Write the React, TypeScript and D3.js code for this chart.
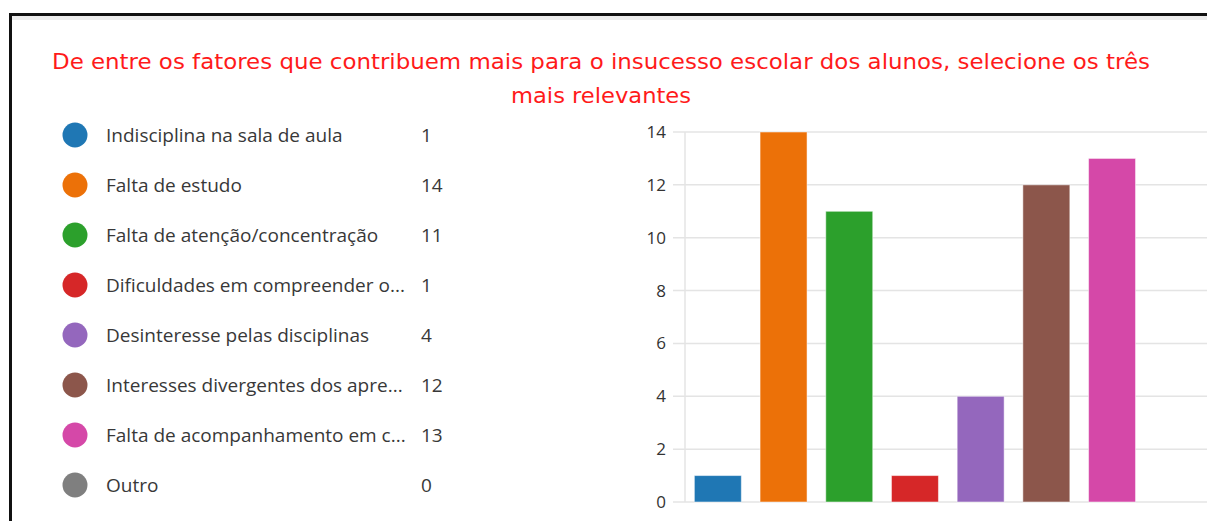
import React from "react";
import * as d3 from "d3";

const categories = [
  "Indisciplina na sala de aula",
  "Falta de estudo",
  "Falta de atenção/concentração",
  "Dificuldades em compreender o...",
  "Desinteresse pelas disciplinas",
  "Interesses divergentes dos apre...",
  "Falta de acompanhamento em c...",
  "Outro",
];
const values = [1, 14, 11, 1, 4, 12, 13, 0];
const colors = ["#1f77b4", "#ec7108", "#2ca02c", "#d62728", "#9467bd", "#8c564b", "#d548a8", "#7f7f7f"];
const yTicks = [0, 2, 4, 6, 8, 10, 12, 14];
const titleLines = [
  "De entre os fatores que contribuem mais para o insucesso escolar dos alunos, selecione os três",
  "mais relevantes",
];
const titleWidths = [1098, 180];

export default function App() {
  const W = 1207;
  const H = 521;
  const x = d3.scaleBand<number>().domain(d3.range(categories.length)).range([685, 1210.6]).paddingInner(0.285).paddingOuter(0.1425);
  const y = d3.scaleLinear().domain([0, 14]).range([502, 132]);
  const legendFont = "'Open Sans', 'Noto Sans', sans-serif";
  return (
    <svg width={W} height={H} style={{ position: "absolute", left: 0, top: 0, background: "#fff" }}>
      <rect x={0} y={0} width={W} height={H} fill="#fff" />
      {/* frame */}
      <rect x={9} y={13} width={W - 9} height={3} fill="#111" />
      <rect x={9} y={13} width={3} height={H - 13} fill="#111" />
      <rect x={12} y={16} width={W - 12} height={4} fill="#ececec" />
      {/* title */}
      {titleLines.map((t, i) => (
        <text key={i} x={601} y={69 + i * 34} textAnchor="middle" fill="#ff1a1a"
          textLength={titleWidths[i]} lengthAdjust="spacingAndGlyphs"
          style={{ fontFamily: "'Century Gothic', 'URW Gothic', 'DejaVu Sans', sans-serif", fontSize: 22 }}>
          {t}
        </text>
      ))}
      {/* legend */}
      {categories.map((c, i) => (
        <g key={c} transform={`translate(0, ${135 + i * 50})`}>
          <circle cx={75} cy={0} r={12.5} fill={colors[i]} />
          <text x={106} y={7} fill="#383838" style={{ fontFamily: legendFont, fontSize: 19 }}>{c}</text>
          <text x={421} y={7} fill="#383838" style={{ fontFamily: legendFont, fontSize: 19 }}>{values[i]}</text>
        </g>
      ))}
      {/* grid */}
      {yTicks.map((t) => (
        <g key={t}>
          <line x1={673} x2={W} y1={y(t)} y2={y(t)} stroke="#e4e4e4" strokeWidth={1.5} />
          <text x={666} y={y(t) + 6} textAnchor="end" fill="#333" style={{ fontFamily: legendFont, fontSize: 17 }}>{t}</text>
        </g>
      ))}
      <line x1={685} x2={685} y1={132} y2={502} stroke="#e4e4e4" strokeWidth={1.5} />
      {/* bars */}
      {values.map((v, i) => (
        <rect key={i} x={x(i)} y={y(v)} width={x.bandwidth()} height={y(0) - y(v)} fill={colors[i]}
          stroke="#fff" strokeOpacity={0.5} strokeWidth={1} />
      ))}
    </svg>
  );
}
